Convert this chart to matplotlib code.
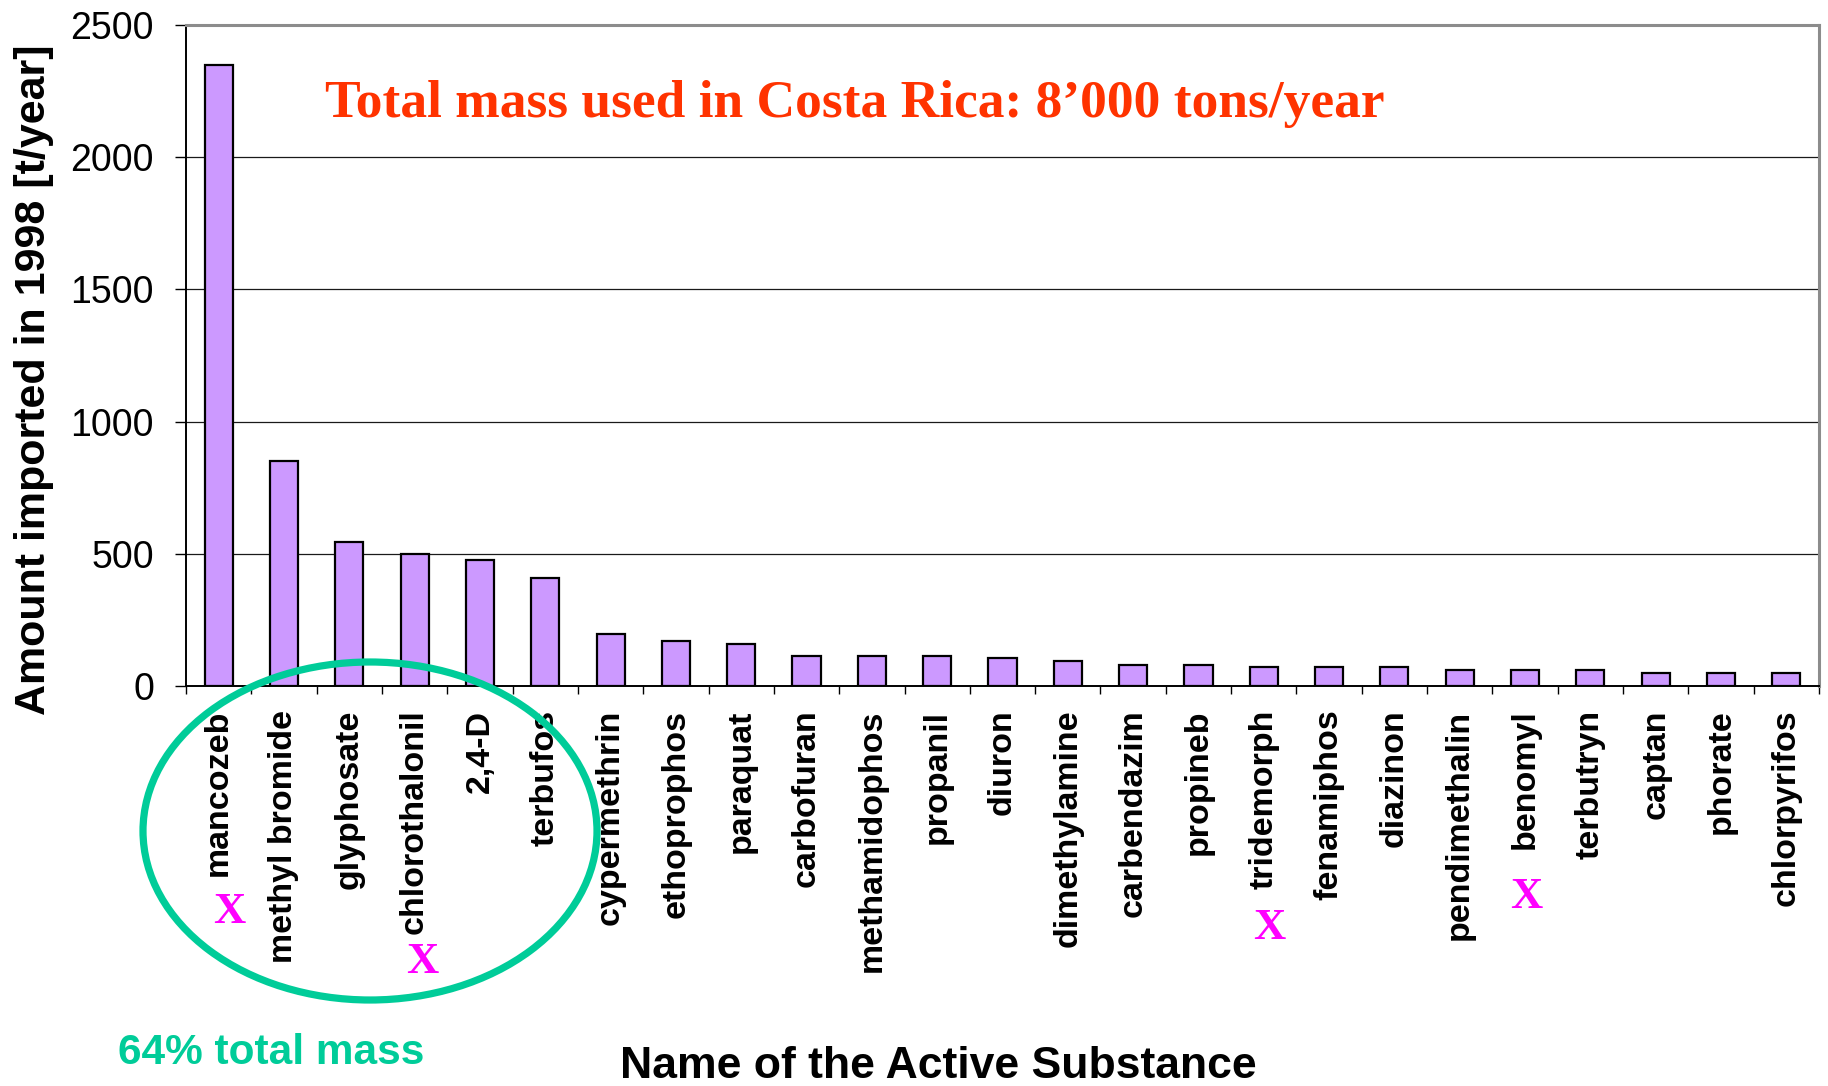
import matplotlib
matplotlib.use("Agg")
import matplotlib.pyplot as plt
from matplotlib.patches import Ellipse
from matplotlib.ticker import FixedLocator, NullFormatter
import matplotlib.transforms as mtransforms

# Pesticide imports into Costa Rica, 1998 (tons per year)
substances = [
    "mancozeb", "methyl bromide", "glyphosate", "chlorothalonil", "2,4-D",
    "terbufos", "cypermethrin", "ethoprophos", "paraquat", "carbofuran",
    "methamidophos", "propanil", "diuron", "dimethylamine", "carbendazim",
    "propineb", "tridemorph", "fenamiphos", "diazinon", "pendimethalin",
    "benomyl", "terbutryn", "captan", "phorate", "chlorpyrifos",
]
imported_t = [
    2350, 850, 545, 500, 475,
    410, 195, 170, 160, 115,
    115, 115, 105, 95, 80,
    80, 70, 70, 70, 60,
    60, 60, 48, 48, 48,
]
flagged = ["mancozeb", "chlorothalonil", "tridemorph", "benomyl"]
y_ticks = [0, 500, 1000, 1500, 2000, 2500]

W, H = 1828, 1086
fig = plt.figure(figsize=(W / 100, H / 100), dpi=100)
ax = fig.add_axes([186 / W, 1 - 686 / H, (1819 - 186) / W, (686 - 25) / H])

sans = ["Liberation Sans", "DejaVu Sans"]
serif = ["Liberation Serif", "DejaVu Serif"]

x = list(range(len(substances)))
ax.bar(x, imported_t, width=0.43, color="#CC99FF", edgecolor="black",
       linewidth=1.6, zorder=3)

ax.set_xlim(-0.5, len(substances) - 0.5)
ax.set_ylim(0, 2500)
ax.set_yticks(y_ticks)
ax.set_yticklabels([str(v) for v in y_ticks], fontsize=27, family=sans)
ax.yaxis.grid(True, color="#1A1A1A", linewidth=0.9, zorder=0)
ax.set_axisbelow(True)

ax.set_xticks(x)
ax.set_xticklabels(substances, rotation=90, fontsize=24.5, fontweight="bold",
                   family=sans, va="top", ha="center")
ax.tick_params(axis="x", which="major", length=0, pad=17)
ax.xaxis.set_minor_locator(FixedLocator([i - 0.5 for i in range(len(substances) + 1)]))
ax.xaxis.set_minor_formatter(NullFormatter())
ax.tick_params(axis="x", which="minor", length=6, width=1.0, direction="out")
ax.tick_params(axis="y", which="major", length=8, width=1.0, direction="out", pad=15)

for side in ("top", "right"):
    ax.spines[side].set_color("#8C8C8C")
    ax.spines[side].set_linewidth(2.2)
ax.spines["left"].set_linewidth(1.4)
ax.spines["bottom"].set_linewidth(1.4)

# Magenta crosses under selected substances
blend = mtransforms.blended_transform_factory(ax.transData, fig.transFigure)
cross_y = {"mancozeb": 912, "chlorothalonil": 962, "tridemorph": 928, "benomyl": 897}
cross_dx = {"mancozeb": 0.16, "chlorothalonil": 0.11, "tridemorph": 0.08, "benomyl": 0.02}
for name in flagged:
    i = substances.index(name)
    fig.text(i + cross_dx[name], 1 - cross_y[name] / H, "X", transform=blend,
             ha="center", va="center", fontsize=32, fontweight="bold",
             family=serif, color="#FF00FF")

# Headline
fig.text(855 / W, 1 - 104 / H, "Total mass used in Costa Rica: 8\u2019000 tons/year",
         ha="center", va="center", fontsize=38.5, fontweight="bold",
         family=serif, color="#FF3300")

# Axis titles
fig.text(34 / W, 1 - 380 / H, "Amount imported in 1998 [t/year]", rotation=90,
         ha="center", va="center", fontsize=31, fontweight="bold", family=sans)
fig.text(938 / W, 1 - 1067 / H, "Name of the Active Substance",
         ha="center", va="center", fontsize=32, fontweight="bold", family=sans)

# Top six substances circled
ring = Ellipse((370 / W, 1 - 831 / H), 454 / W, 338 / H, transform=fig.transFigure,
               fill=False, edgecolor="#00CC99", linewidth=5.2, zorder=5)
fig.patches.append(ring)
fig.text(271 / W, 1 - 1053 / H, "64% total mass", ha="center", va="center",
         fontsize=30.5, fontweight="bold", family=sans, color="#00CC99")

fig.savefig("out.png", dpi=100, facecolor="white")
